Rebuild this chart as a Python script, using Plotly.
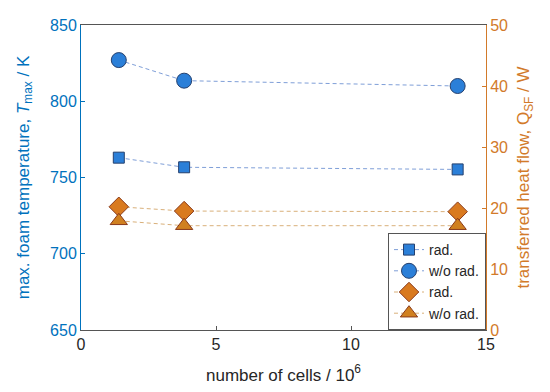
import plotly.graph_objects as go

cells = [1.4, 3.82, 13.95]
tmax_rad = [763, 756.7, 755.3]
tmax_norad = [827, 813.5, 810]
q_rad = [20.2, 19.5, 19.4]
q_norad = [17.9, 17.1, 17.1]

BLUE = "#0072BD"
BLUE_FILL = "#2b7fd8"
ORANGE_AX = "#D27A2A"
ORANGE_FILL = "#d97a1f"
FONT = "Liberation Sans, Arial, sans-serif"
DASH = "4px,3px"

fig = go.Figure()
fig.add_trace(go.Scatter(x=cells, y=tmax_rad, name="rad.", mode="lines+markers",
    line=dict(color="#7f9fd8", width=1, dash=DASH),
    marker=dict(symbol="square", size=11, color=BLUE_FILL, line=dict(color="#25406e", width=1))))
fig.add_trace(go.Scatter(x=cells, y=tmax_norad, name="w/o rad.", mode="lines+markers",
    line=dict(color="#7f9fd8", width=1, dash=DASH),
    marker=dict(symbol="circle", size=15, color=BLUE_FILL, line=dict(color="#25406e", width=1))))
fig.add_trace(go.Scatter(x=cells, y=q_rad, name="rad.", mode="lines+markers", yaxis="y2",
    line=dict(color="#d9b07a", width=1, dash=DASH),
    marker=dict(symbol="diamond", size=15, color=ORANGE_FILL, line=dict(color="#8a3a1a", width=1))))
fig.add_trace(go.Scatter(x=cells, y=q_norad, name="w/o rad.", mode="lines+markers", yaxis="y2",
    line=dict(color="#d9b07a", width=1, dash=DASH),
    marker=dict(symbol="triangle-up", size=15, color="#d08020", line=dict(color="#8a3a1a", width=1))))

fig.update_layout(
    width=550, height=392,
    margin=dict(l=73, r=72, t=17, b=70, autoexpand=False),
    paper_bgcolor="white", plot_bgcolor="white",
    font=dict(family=FONT, size=16, color="#262626"),
    showlegend=True,
    legend=dict(x=1, y=0, xanchor="right", yanchor="bottom",
                bgcolor="white", bordercolor="#555555", borderwidth=1,
                font=dict(size=14, color="#262626"), tracegroupgap=0,
                itemwidth=30),
    xaxis=dict(range=[0, 15], tickvals=[0, 5, 10, 15], ticks="inside", ticklen=4,
               showline=True, linecolor="#555555", linewidth=1, mirror=True,
               showgrid=False, zeroline=False, tickcolor="#555555", automargin=False,
               tickfont=dict(size=16, color="#262626"),
               title=dict(text="number of cells / 10<sup>6</sup>", font=dict(size=17, color="#262626"), standoff=16)),
    yaxis=dict(range=[650, 850], tickvals=[650, 700, 750, 800, 850], ticks="inside", ticklen=4,
               showline=True, linecolor=BLUE, linewidth=1, showgrid=False, zeroline=False,
               tickcolor=BLUE, tickfont=dict(size=16, color=BLUE), automargin=False,
               title=dict(text="max. foam temperature, <i>T</i><sub>max</sub> / K", font=dict(size=17, color=BLUE), standoff=16)),
    yaxis2=dict(range=[0, 50], tickvals=[0, 10, 20, 30, 40, 50], ticks="inside", ticklen=4,
                overlaying="y", side="right", automargin=False,
                showline=True, linecolor=ORANGE_AX, linewidth=1, showgrid=False, zeroline=False,
                tickcolor=ORANGE_AX, tickfont=dict(size=16, color=ORANGE_AX),
                title=dict(text="transferred heat flow, Q<sub>SF</sub> / W", font=dict(size=17, color=ORANGE_AX), standoff=10)),
)

fig.write_html("out.html")
